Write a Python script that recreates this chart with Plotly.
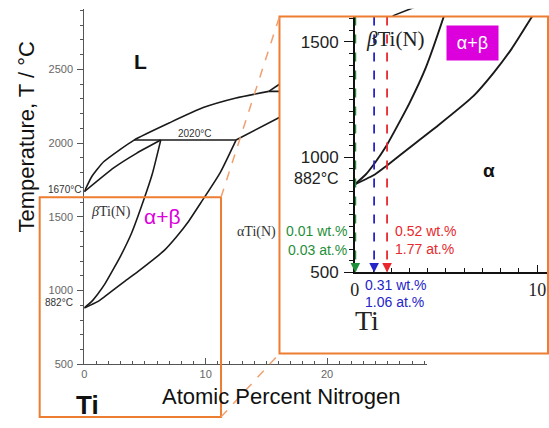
import plotly.graph_objects as go

# ---------------- data (at.% N, temperature °C) ----------------
liq_x = [0, 0.6, 1.6, 4.1, 7.1, 9.8, 12.5, 15.2]
liq_T = [1670, 1770, 1873, 2020, 2140, 2240, 2305, 2350]

beta_sol_x = [0, 2.45, 4.3, 6.3]
beta_sol_T = [1670, 1833, 1930, 2020]

beta_tr_x = [0, 0.6, 1.1, 1.7, 2.5, 3.0, 3.9, 4.9, 5.6, 6.3]
beta_tr_T = [882, 925, 975, 1045, 1160, 1235, 1390, 1615, 1790, 2020]

alpha_tr_x = [0, 1.1, 1.7, 3.3, 4.6, 6.5, 7.6, 8.6, 9.6, 11.2, 12.5]
alpha_tr_T = [882, 925, 960, 1060, 1140, 1265, 1365, 1470, 1595, 1800, 2020]

peri2020_x = [4.1, 12.5]
peri2020_T = [2020, 2020]

alpha_liq_x = [12.5, 16.1]
alpha_liq_T = [2020, 2175]

peri2350_x = [15.2, 16.1]
peri2350_T = [2350, 2350]

delta_liq_low_x = [15.2, 16.1]
delta_liq_low_T = [2350, 2400]
delta_liq_top_x = [25.4, 27.5]
delta_liq_top_T = [2862, 2930]

# sample compositions (at.% N) in the inset
sample_at = [0.03, 1.06, 1.77]
sample_wt_lbl = ["0.01 wt.%", "0.31 wt.%", "0.52 wt.%"]
sample_at_lbl = ["0.03 at.%", "1.06 at.%", "1.77 at.%"]
sample_col = ["#1f8f3a", "#2424c8", "#e8282c"]

main_yticks = [500, 1000, 1500, 2000, 2500]
main_xticks = [0, 10, 20]
inset_yticks = [500, 1000, 1500]
inset_xticks = [0, 10]

W, H = 549, 428
def px(x):
    return x / W
def py(y):
    return (H - y) / H

ORANGE = "#ED7D31"
MAG = "#DC00DC"
LINE = "#1a1a1a"

fig = go.Figure()

main_curves = [
    (liq_x, liq_T), (beta_sol_x, beta_sol_T), (beta_tr_x, beta_tr_T),
    (alpha_tr_x, alpha_tr_T), (peri2020_x, peri2020_T), (alpha_liq_x, alpha_liq_T),
    (peri2350_x, peri2350_T), (delta_liq_low_x, delta_liq_low_T),
    (delta_liq_top_x, delta_liq_top_T),
]
for xs, ts in main_curves:
    fig.add_trace(go.Scatter(x=xs, y=ts, mode="lines",
                             line=dict(color=LINE, width=1.6, shape="spline", smoothing=0.5),
                             xaxis="x", yaxis="y", hoverinfo="skip"))

# inset curves
for xs, ts in [(beta_tr_x, beta_tr_T), (alpha_tr_x, alpha_tr_T)]:
    fig.add_trace(go.Scatter(x=xs, y=ts, mode="lines",
                             line=dict(color=LINE, width=1.9, shape="spline", smoothing=0.5),
                             xaxis="x2", yaxis="y2", hoverinfo="skip"))

# sample dashed lines
for v, c in zip(sample_at, sample_col):
    fig.add_trace(go.Scatter(x=[v, v], y=[1610, 505], mode="lines",
                             line=dict(color=c, width=1.8, dash="dash"),
                             xaxis="x2", yaxis="y2", hoverinfo="skip"))

fig.update_layout(
    width=W, height=H, margin=dict(l=0, r=0, t=0, b=0),
    paper_bgcolor="white", plot_bgcolor="rgba(0,0,0,0)", showlegend=False,
    font=dict(family="Liberation Sans", color="#222"),
    xaxis=dict(domain=[px(80), px(426)], range=[0, 28.24], anchor="y",
               showline=True, linecolor="#555", linewidth=1, showgrid=False, zeroline=False,
               tickvals=main_xticks, ticks="inside", ticklen=6, tickcolor="#555",
               minor=dict(dtick=1, ticks="inside", ticklen=3, tickcolor="#555"),
               tickfont=dict(size=11, color="#666")),
    yaxis=dict(domain=[py(373), py(9)], range=[500, 2910], anchor="x",
               showline=True, linecolor="#555", linewidth=1, showgrid=False, zeroline=False,
               tickvals=main_yticks, ticks="outside", ticklen=6, tickcolor="#555",
               minor=dict(dtick=100, ticks="outside", ticklen=3, tickcolor="#555"),
               tickfont=dict(size=11, color="#666"), ticklabelstandoff=2),
    xaxis2=dict(domain=[px(353), 1.0], range=[0, 10.65], anchor="y2",
                showline=True, linecolor="#111", linewidth=1.5, showgrid=False, zeroline=False,
                tickvals=inset_xticks, ticks="inside", ticklen=8, tickcolor="#111",
                minor=dict(dtick=1, ticks="inside", ticklen=5, tickcolor="#111"),
                tickfont=dict(size=18, family="Liberation Serif", color="#222")),
    yaxis2=dict(domain=[py(279), py(17)], range=[500, 1610], anchor="x2",
                showline=True, linecolor="#111", linewidth=1.5, showgrid=False, zeroline=False,
                tickvals=inset_yticks, ticks="outside", ticklen=9, tickcolor="#111",
                minor=dict(dtick=50, ticks="outside", ticklen=4, tickcolor="#111"),
                tickfont=dict(size=17, color="#222"), ticklabelstandoff=2),
)

# zoom boxes and connectors
fig.add_shape(type="rect", xref="paper", yref="paper", x0=px(35), x1=px(218), y0=py(427), y1=py(202),
              line=dict(color=ORANGE, width=2), layer="above")
fig.add_shape(type="rect", xref="paper", yref="paper", x0=px(277), x1=px(548), y0=py(362), y1=py(17),
              line=dict(color=ORANGE, width=2), layer="above")
for (x0, y0, x1, y1) in [(218, 202, 277, 17), (218, 427, 277, 362)]:
    fig.add_shape(type="line", xref="paper", yref="paper", x0=px(x0), y0=py(y0), x1=px(x1), y1=py(y1),
                  line=dict(color="#F0A070", width=1.5, dash="dash"), layer="above")

ann = []
def A(text, x, y, xref, yref, size, color="#222", family="Liberation Sans", xanchor="center", yanchor="middle", **kw):
    ann.append(dict(text=text, x=x, y=y, xref=xref, yref=yref, showarrow=False,
                    font=dict(size=size, color=color, family=family), xanchor=xanchor, yanchor=yanchor, **kw))

# main labels
A("Temperature, T / °C", px(22), py(140), "paper", "paper", 22, color="#111", textangle=-90)
A("Atomic Percent Nitrogen", px(279), py(406), "paper", "paper", 22, color="#111")
A("<b>Ti</b>", px(83), py(415), "paper", "paper", 26, color="#111")
A("<b>L</b>", 4.65, 2553, "x", "y", 21, color="#111")
A("2020°C", 9.1, 2063, "x", "y", 10, color="#333")
A("1670°C", px(79), 1685, "paper", "y", 10, color="#333", xanchor="right")
A("882°C", px(71), 917, "paper", "y", 10, color="#333", xanchor="right")
A("<i>β</i>Ti(N)", 2.2, 1533, "x", "y", 14, color="#333", family="Liberation Serif")
A("α+β", 6.4, 1500, "x", "y", 21, color=MAG)
A("αTi(N)", 12.4, 1400, "x", "y", 14, color="#333", family="Liberation Serif", xanchor="left")

# inset labels
A("<i>β</i>Ti(N)", 2.23, 1513, "x2", "y2", 21, color="#222", family="Liberation Serif")
ann.append(dict(text="α+β", x=6.47, y=1496, xref="x2", yref="y2", showarrow=False,
                font=dict(size=18, color="white", family="Liberation Sans"),
                bgcolor=MAG, width=49, height=32, xanchor="center", yanchor="middle"))
A("<b>α</b>", 7.34, 941, "x2", "y2", 19, color="#111")
A("882°C", px(339), 907, "paper", "y2", 16, color="#222", xanchor="right")
A("Ti", px(365), py(328), "paper", "paper", 28, color="#222", family="Liberation Serif")

# sample labels
A(sample_wt_lbl[0], px(347), py(237), "paper", "paper", 14, color=sample_col[0], xanchor="right")
A(sample_at_lbl[0], px(347), py(256), "paper", "paper", 14, color=sample_col[0], xanchor="right")
A(sample_wt_lbl[2], px(392), py(237), "paper", "paper", 14, color=sample_col[2], xanchor="left")
A(sample_at_lbl[2], px(392), py(255), "paper", "paper", 14, color=sample_col[2], xanchor="left")
A(sample_wt_lbl[1], px(361), py(292), "paper", "paper", 14, color=sample_col[1], xanchor="left")
A(sample_at_lbl[1], px(361), py(309), "paper", "paper", 14, color=sample_col[1], xanchor="left")

# arrowheads
for v, c in zip(sample_at, sample_col):
    ann.append(dict(text="", x=v, y=500, ax=v, ay=545, xref="x2", yref="y2", axref="x2", ayref="y2",
                    showarrow=True, arrowhead=2, arrowsize=1.2, arrowwidth=1.6, arrowcolor=c, standoff=0))

fig.update_layout(annotations=ann)
fig.write_html("out.html")
